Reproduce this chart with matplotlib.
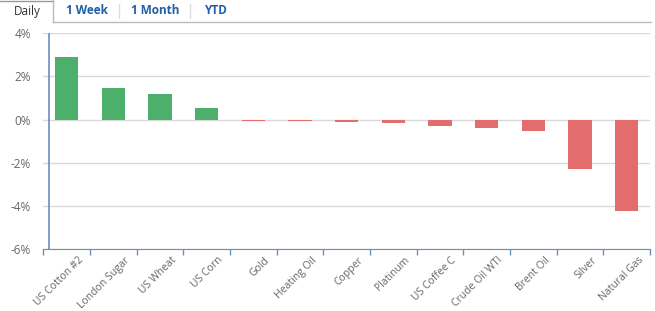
import matplotlib.pyplot as plt
import matplotlib.transforms as mtransforms
from matplotlib.lines import Line2D
import numpy as np

plt.rcParams['font.family'] = ['Open Sans', 'DejaVu Sans']

categories = ['US Cotton #2', 'London Sugar', 'US Wheat', 'US Corn', 'Gold',
              'Heating Oil', 'Copper', 'Platinum', 'US Coffee C', 'Crude Oil WTI',
              'Brent Oil', 'Silver', 'Natural Gas']
changes = [2.88, 1.44, 1.2, 0.55, -0.05, -0.05, -0.1, -0.15, -0.28, -0.38,
           -0.52, -2.28, -4.23]
y_ticks = [4, 2, 0, -2, -4, -6]
tabs = ['Daily', '1 Week', '1 Month', 'YTD']

GREEN = '#4daf6c'
RED = '#e36d6d'
AXIS = '#6b8fbd'
GRID = '#d9d9d9'
TXT = '#666666'

W, H = 655, 311
fig = plt.figure(figsize=(W / 100, H / 100), dpi=100)
fig.patch.set_facecolor('white')

ax = fig.add_axes([43.3 / W, 1 - 249.3 / H, (650 - 43.3) / W, (249.3 - 33) / H])
x = np.arange(len(categories))
colors = [GREEN if v >= 0 else RED for v in changes]
ax.bar(x, changes, width=0.5, color=colors, zorder=3)

for s in ['top', 'right', 'left']:
    ax.spines[s].set_visible(False)
ax.spines['bottom'].set_color(AXIS)

ax.set_xlim(-0.5, len(categories) - 0.5)
ax.set_ylim(-6, 4)
ax.set_yticks(y_ticks)
ax.set_yticklabels([f'{t}%' for t in y_ticks], color=TXT, fontsize=8.5)
ax.tick_params(axis='y', length=0, pad=9)
ax.yaxis.grid(True, color=GRID, lw=1, zorder=0)
ax.set_axisbelow(True)

# category boundaries get ticks, labels sit at centres
ax.set_xticks(np.arange(len(categories) + 1) - 0.5)
ax.set_xticklabels([])
ax.set_xticks(x, minor=True)
ax.set_xticklabels(categories, minor=True, rotation=45, ha='right',
                   rotation_mode='anchor', color=TXT, fontsize=7.5)
ax.tick_params(axis='x', which='major', length=4, color=AXIS, width=1)
ax.tick_params(axis='x', which='minor', length=0, pad=4)
shift = mtransforms.ScaledTranslation(11 / 100, 0, fig.dpi_scale_trans)
for lab in ax.get_xticklabels(minor=True):
    lab.set_transform(lab.get_transform() + shift)

# vertical value axis sits a little inside the first category
ax.axvline(-0.5 + 5.4 / 46.7, color=AXIS, lw=1.2, zorder=4)

# tab strip across the top
fig.add_artist(Line2D([53 / W, 651 / W], [1 - 22 / H, 1 - 22 / H],
                      color='#bbbbbb', lw=1))
fig.add_artist(Line2D([0, 53 / W], [1 - 0.5 / H, 1 - 0.5 / H], color='#999999', lw=1))
fig.add_artist(Line2D([53 / W, 53 / W], [1 - 22 / H, 1], color='#bbbbbb', lw=1))
for sx in [119, 190]:
    fig.add_artist(Line2D([sx / W, sx / W], [1 - 18 / H, 1 - 4 / H],
                          color='#dddddd', lw=1))

tab_x = [27, 87, 155, 215]
for i, (t, tx) in enumerate(zip(tabs, tab_x)):
    if i == 0:
        fig.text(tx / W, 1 - 11 / H, t, ha='center', va='center',
                 color='#333333', fontsize=8.5)
    else:
        fig.text(tx / W, 1 - 11 / H, t, ha='center', va='center',
                 color='#1f5fa8', fontsize=8.5, fontweight='bold')

fig.savefig('out.png', dpi=100)
